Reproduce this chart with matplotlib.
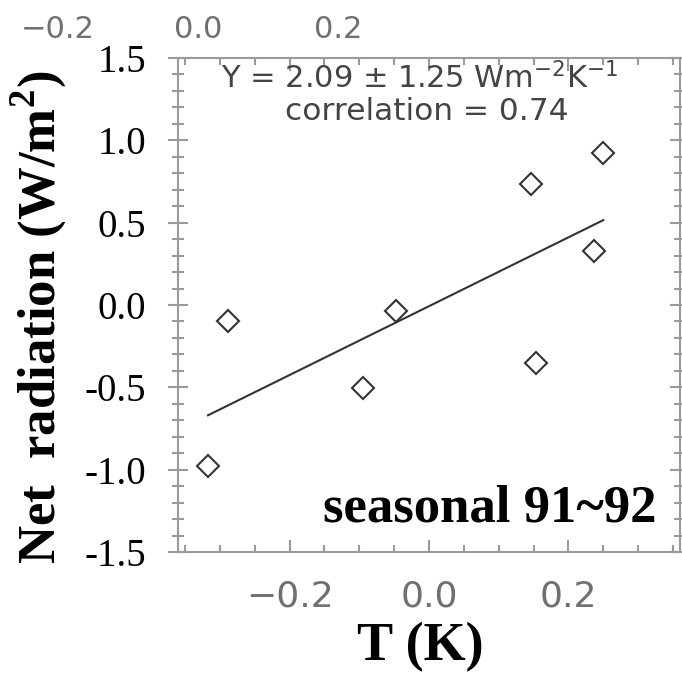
import numpy as np
import matplotlib
matplotlib.use("Agg")
import matplotlib.pyplot as plt
from matplotlib.ticker import FixedLocator, MultipleLocator

# ---- data ----
T_vals = [-0.317, -0.289, -0.095, -0.048, 0.147, 0.153, 0.237, 0.250]
R_vals = [-0.978, -0.095, -0.506, -0.035, 0.735, -0.350, 0.330, 0.921]

x_ticks = [-0.2, 0.0, 0.2]
x_ticklabels = ["\u22120.2", "0.0", "0.2"]
y_ticks = [-1.5, -1.0, -0.5, 0.0, 0.5, 1.0, 1.5]
y_ticklabels = ["-1.5", "-1.0", "-0.5", "0.0", "0.5", "1.0", "1.5"]
top_ticks = [-0.2, 0.0, 0.2]
top_ticklabels = ["\u22120.2", "0.0", "0.2"]

slope_txt = "2.09"
err_txt = "1.25"
corr_txt = "0.74"
panel_label = "seasonal 91~92"
xlabel = "T (K)"
ylabel = r"Net  radiation (W/m$^{\mathbf{2}}$)"

plt.rcParams["mathtext.fontset"] = "custom"
plt.rcParams["mathtext.rm"] = "Liberation Serif"
plt.rcParams["mathtext.bf"] = "Liberation Serif:bold"

W, H = 682, 673
fig = plt.figure(figsize=(W / 100, H / 100), dpi=100)
L, R, TOP, BOT = 178, 680, 58, 552
ax = fig.add_axes([L / W, (H - BOT) / H, (R - L) / W, (BOT - TOP) / H])

ax.set_xlim(-0.36, 0.36)
ax.set_ylim(-1.5, 1.5)

grey = "#9a9a9a"
for s in ax.spines.values():
    s.set_color(grey)
    s.set_linewidth(1.5)

ax.xaxis.set_major_locator(FixedLocator(x_ticks))
ax.xaxis.set_minor_locator(MultipleLocator(0.05))
ax.yaxis.set_major_locator(FixedLocator(y_ticks))
ax.yaxis.set_minor_locator(MultipleLocator(0.1))
ax.set_xticklabels(x_ticklabels, fontsize=26, color="#707070", family="DejaVu Sans")
ax.set_yticklabels(y_ticklabels, fontsize=28, color="black", family="Liberation Serif")

ax.tick_params(which="both", top=True, right=True, color=grey, width=1.5)
ax.tick_params(axis="x", which="major", direction="in", length=9, pad=20)
ax.tick_params(axis="x", which="minor", direction="in", length=5)
ax.tick_params(axis="y", which="major", direction="inout", length=14, pad=16)
ax.tick_params(axis="y", which="minor", direction="inout", length=8)

# data and fit
ax.plot(T_vals, R_vals, linestyle="none", marker="D", ms=11.5, mfc="none",
        mec="#333333", mew=1.5)
coef = np.polyfit(T_vals, R_vals, 1)
xs = np.array([min(T_vals), max(T_vals)])
ax.plot(xs, np.polyval(coef, xs), color="#333333", lw=1.5)

# annotations
ax.text(0.481, 0.9595, "Y = " + slope_txt + " \u00b1 " + err_txt + r" Wm$^{-2}$K$^{-1}$",
        transform=ax.transAxes, ha="center", va="center", fontsize=22,
        color="#444444", family="DejaVu Sans", math_fontfamily="dejavusans")
ax.text(0.495, 0.891, "correlation = " + corr_txt, transform=ax.transAxes,
        ha="center", va="center", fontsize=22.5, color="#444444", family="DejaVu Sans")
ax.text(0.954, 0.061, panel_label, transform=ax.transAxes, ha="right",
        va="baseline", fontsize=38, fontweight="bold", family="Liberation Serif")

ax.set_xlabel(xlabel, fontsize=39, fontweight="bold", family="Liberation Serif",
              va="center")
ax.xaxis.set_label_coords((420 - L) / (R - L), (BOT - 647) / (BOT - TOP))
ax.set_ylabel(ylabel, fontsize=38, fontweight="bold", family="Liberation Serif",
              va="center")
ax.yaxis.set_label_coords((39 - L) / (R - L), (BOT - 317) / (BOT - TOP))

# top axis labels (offset scale from the neighbouring panel)
axt = fig.add_axes([0, (H - TOP) / H, 1, 1e-4])
axt.set_xlim(-198 / 700, (W - 198) / 700)
for s in axt.spines.values():
    s.set_visible(False)
axt.set_yticks([])
axt.patch.set_alpha(0)
axt.xaxis.set_major_locator(FixedLocator(top_ticks))
axt.set_xticklabels(top_ticklabels, fontsize=22, color="#707070", family="DejaVu Sans")
axt.tick_params(axis="x", length=0, top=True, bottom=False, labeltop=True,
                labelbottom=False, pad=10)

fig.savefig("out.png", dpi=100)
